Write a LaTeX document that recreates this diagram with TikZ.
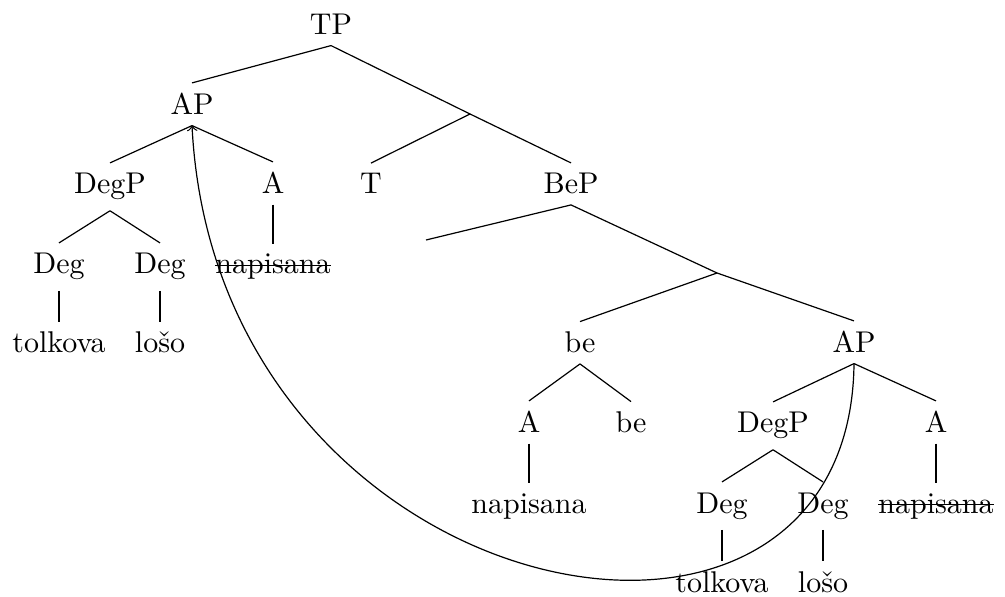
\documentclass[tikz,border=0pt]{standalone}
\usepackage{tikz}
\usetikzlibrary{positioning}
\newsavebox{\strkbox}
\newcommand{\strk}[1]{\sbox{\strkbox}{#1}\rlap{\rule[0.6ex]{\wd\strkbox}{0.4pt}}\usebox{\strkbox}}

\begin{document}
\begin{tikzpicture}[
  x=0.33333pt, y=-0.33333pt,
  cat/.style={anchor=base},
  mv/.style={->}
]
\useasboundingbox (0,0) rectangle (1005,597);
% upper part
\node[cat] (tp) at (331,35) {TP};
\node[cat] (apL) at (192,115) {AP};
\coordinate (x1) at (470,114);
\node[cat] (degpL) at (110,194) {DegP};
\node[cat] (aL) at (273,194) {A};
\node[cat] (t) at (371,194) {T};
\node[cat] (bep) at (571,194) {BeP};
% left AP
\node[cat] (degL1) at (59,274) {Deg};
\node[cat] (degL2) at (160,274) {Deg};
\node[cat] (napL) at (273,274) {\strk{napisana}};
\node[cat] (tolL) at (59,353) {tolkova};
\node[cat] (losL) at (160,353) {lošo};
% BeP
\coordinate (e) at (426,240);
\coordinate (x2) at (717,273);
\node[cat] (be) at (580,353) {be};
\node[cat] (apR) at (854,353) {AP};
\node[cat] (aM) at (529,433) {A};
\node[cat] (beH) at (631,433) {be};
\node[cat] (napM) at (529,513) {napisana};
% right AP
\node[cat] (degpR) at (773,433) {DegP};
\node[cat] (aR) at (936,433) {A};
\node[cat] (degR1) at (722,513) {Deg};
\node[cat] (degR2) at (823,513) {Deg};
\node[cat] (napR) at (936,513) {\strk{napisana}};
\node[cat] (tolR) at (722,592) {tolkova};
\node[cat] (losR) at (823,592) {lošo};
% branches
\draw (tp.south)--(apL.north); \draw (tp.south)--(x1);
\draw (x1)--(t.north); \draw (x1)--(bep.north);
\draw (apL.south)--(degpL.north); \draw (apL.south)--(aL.north);
\draw (degpL.south)--(degL1.north); \draw (degpL.south)--(degL2.north);
\draw (degL1.south)--(tolL.north); \draw (degL2.south)--(losL.north);
\draw (aL.south)--(napL.north);
\draw (bep.south)--(e); \draw (bep.south)--(x2);
\draw (x2)--(be.north); \draw (x2)--(apR.north);
\draw (be.south)--(aM.north); \draw (be.south)--(beH.north);
\draw (aM.south)--(napM.north);
\draw (apR.south)--(degpR.north); \draw (apR.south)--(aR.north);
\draw (degpR.south)--(degR1.north); \draw (degpR.south)--(degR2.north);
\draw (degR1.south)--(tolR.north); \draw (degR2.south)--(losR.north);
\draw (aR.south)--(napR.north);
% movement
\draw[mv] (apR.south) .. controls +(-4,372) and +(25,485) .. (apL.south);
\end{tikzpicture}
\end{document}
